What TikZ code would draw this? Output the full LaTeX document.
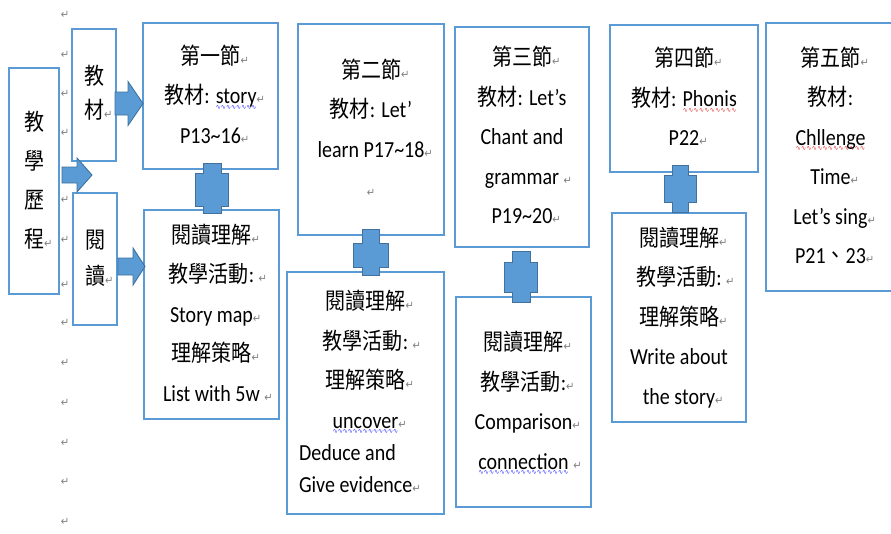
\documentclass[tikz,border=0pt]{standalone}
\usepackage{fontspec}
\usepackage{graphicx}
\setmainfont{Carlito}
\newfontfamily\cjk{Noto Sans CJK TC}
\newfontfamily\retfont{DejaVu Sans}
\definecolor{boxblue}{HTML}{5B9BD5}
\definecolor{arrowfill}{HTML}{5B9BD5}
\definecolor{arrowline}{HTML}{41719C}
\definecolor{retgray}{HTML}{808080}
\definecolor{wblue}{HTML}{3030FF}
\definecolor{wred}{HTML}{E03030}
\newsavebox\wavebox
\newcommand\wavy[2]{\sbox\wavebox{#2}\rlap{\raisebox{-5pt}[0pt][0pt]{\textcolor{#1}{\retfont\fontsize{6}{6}\selectfont\hbox to \wd\wavebox{\xleaders\hbox{∿}\hfill}}}}\usebox\wavebox}
\newcommand\bwave[1]{\wavy{wblue}{#1}}
\newcommand\rwave[1]{\wavy{wred}{#1}}
\newcommand\zh[1]{{\cjk #1}}
\newcommand\ret{\textcolor{retgray}{\retfont\fontsize{10}{10}\selectfont ↵}}
\newcommand\rmk{\rlap{\ret}}
\newcommand\srmk{\rlap{\ \ret}}
\newcommand\lines[1]{\scalebox{1}[1.15]{\begin{tabular}{@{}c@{}}#1\end{tabular}}}
\newcommand\harrow[6]{\draw[barrow] (#1,{#3-#4}) -- (#6,{#3-#4}) -- (#6,{#3-#5}) -- (#2,#3) -- (#6,{#3+#5}) -- (#6,{#3+#4}) -- (#1,{#3+#4}) -- cycle;}
\newcommand\plusshape[7]{\draw[barrow] ({#1-#6},#2) -- ({#1+#6},#2) -- ({#1+#6},#4) -- ({#1+#7},#4) -- ({#1+#7},#5) -- ({#1+#6},#5) -- ({#1+#6},#3) -- ({#1-#6},#3) -- ({#1-#6},#5) -- ({#1-#7},#5) -- ({#1-#7},#4) -- ({#1-#6},#4) -- cycle;}
\tikzset{
  box/.style={draw=boxblue, line width=1.2pt, fill=white, inner sep=0pt, text=black,
    font=\fontsize{20}{34.35}\selectfont},
  barrow/.style={fill=arrowfill, draw=arrowline, line width=0.9pt, line join=miter},
  retmark/.style={inner sep=0pt, font=\retfont\fontsize{10}{10}\selectfont, text=retgray}
}
\begin{document}
\begin{tikzpicture}[x=1pt,y=-1pt]
\useasboundingbox (0,0) rectangle (891,533);
\fill[white] (0,0) rectangle (891,533);
% left column of paragraph marks
\foreach \yy [count=\i] in {15,55,94,133,200,240,285,323,363,403,443,482,522}
  \node[retmark, yscale=1.15] (m\i) at (65,\yy) {↵};
% vertical boxes
\node[box, font=\fontsize{20}{33.9}\selectfont, minimum width=50pt, minimum height=226pt] (jx) at (34,181)
  {\lines{\zh{教}\\\zh{學}\\\zh{歷}\\\zh{程}\rmk}};
\node[box, font=\fontsize{20}{29.5}\selectfont, minimum width=44pt, minimum height=132pt] (jc) at (94,95)
  {\lines{\zh{教}\\\zh{材}\rmk}};
\node[box, font=\fontsize{20}{31.5}\selectfont, minimum width=44pt, minimum height=132pt] (jr) at (95,259)
  {\lines{\zh{閱}\\\zh{讀}\rmk}};
% lesson boxes
\node[box, minimum width=135pt, minimum height=146pt] (s1) at (210.5,96)
  {\lines{\zh{第一節}\rmk\\\zh{教材}: \bwave{story}\rmk\\P13\textasciitilde16\rmk}};
\node[box, minimum width=135pt, minimum height=209pt] (r1) at (211.5,314.5)
  {\lines{\zh{閱讀理解}\rmk\\\zh{教學活動}:\srmk\\Story map\rmk\\\zh{理解策略}\rmk\\List with 5w\srmk}};
\node[box, minimum width=146pt, minimum height=211pt] (s2) at (371,129.5)
  {\lines{\zh{第二節}\rmk\\\zh{教材}: Let’\\learn P17\textasciitilde18\rmk\\\ret}};
\node[box, minimum width=157pt, minimum height=242pt] (r2) at (365.5,393)
  {\lines{\zh{閱讀理解}\rmk\\\zh{教學活動}:\srmk\\\zh{理解策略}\rmk\\\bwave{uncover}\rmk\\[-6.5pt]\makebox[133pt][l]{Deduce and}\\[-6.5pt]\makebox[133pt][l]{Give evidence\rmk}}};
\node[box, minimum width=134pt, minimum height=220pt] (s3) at (522,137)
  {\lines{\zh{第三節}\rmk\\\zh{教材}: Let’s\\Chant and\\grammar\srmk\\P19\textasciitilde20\rmk}};
\node[box, minimum width=135pt, minimum height=210pt] (r3) at (523.5,402)
  {\lines{\zh{閱讀理解}\rmk\\\zh{教學活動}:\rmk\\Comparison\rmk\\\bwave{connection}\srmk}};
\node[box, minimum width=148pt, minimum height=147pt] (s4) at (684,98.5)
  {\lines{\zh{第四節}\rmk\\\zh{教材}: \rwave{Phonis}\\P22\rmk}};
\node[box, minimum width=134pt, minimum height=209pt] (r4) at (679,317.5)
  {\lines{\zh{閱讀理解}\rmk\\\zh{教學活動}:\srmk\\\zh{理解策略}\rmk\\Write about\\the story\rmk}};
\node[box, minimum width=129pt, minimum height=268pt] (s5) at (830.5,157)
  {\lines{\zh{第五節}\rmk\\\zh{教材}:\\\rwave{Chllenge}\\Time\rmk\\Let’s sing\rmk\\P21\zh{、}23\rmk}};
% block arrows
\harrow{115}{143}{103.5}{11.5}{22}{128}
\harrow{62}{92}{175}{8}{17}{77}
\harrow{118}{145}{266.5}{8.5}{18.5}{133}
% plus connectors
\plusshape{212}{163}{213}{173}{206}{9}{16.5}
\plusshape{371}{229}{275}{243}{267}{8.5}{17.5}
\plusshape{521}{251}{302}{262}{292}{9}{16.5}
\plusshape{680}{165}{212}{175}{202}{8}{16}
\end{tikzpicture}
\end{document}
